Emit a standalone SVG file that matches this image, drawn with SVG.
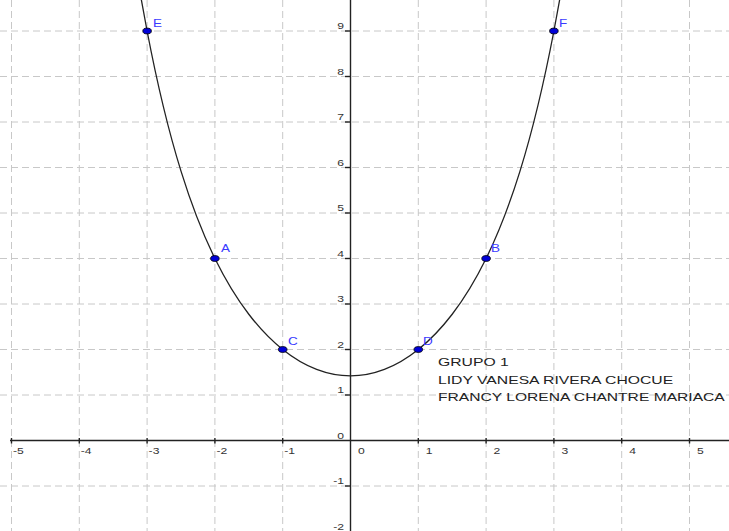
<svg xmlns="http://www.w3.org/2000/svg" width="729" height="531" viewBox="0 0 729 531">
<style>
.grid line{stroke:#c8c8c8;stroke-width:1;stroke-dasharray:7 4;}
.axis{stroke:#222;stroke-width:1.4;fill:none;}
.tick{stroke:#222;stroke-width:1.4;}
.tl{font-family:"Liberation Sans",Arial,sans-serif;font-size:9px;fill:#333;}
.yl{text-anchor:end;}
.pt{fill:#0000d8;stroke:#000;stroke-width:0.8;}
.pl{font-family:"Liberation Sans",Arial,sans-serif;font-size:10px;fill:#3a3aff;}
.info{font-family:"Liberation Sans",Arial,sans-serif;font-size:10.7px;fill:#222;}
.curve{fill:none;stroke:#222;stroke-width:1.3;}
</style>
<rect width="729" height="531" fill="#fff"/>
<g id="grid" class="grid">
<line x1="11.5" y1="0" x2="11.5" y2="531"/>
<line x1="79.3" y1="0" x2="79.3" y2="531"/>
<line x1="147.1" y1="0" x2="147.1" y2="531"/>
<line x1="214.9" y1="0" x2="214.9" y2="531"/>
<line x1="282.7" y1="0" x2="282.7" y2="531"/>
<line x1="418.3" y1="0" x2="418.3" y2="531"/>
<line x1="486.1" y1="0" x2="486.1" y2="531"/>
<line x1="553.9" y1="0" x2="553.9" y2="531"/>
<line x1="621.7" y1="0" x2="621.7" y2="531"/>
<line x1="689.5" y1="0" x2="689.5" y2="531"/>
<line x1="0" y1="31" x2="729" y2="31"/>
<line x1="0" y1="76.5" x2="729" y2="76.5"/>
<line x1="0" y1="122" x2="729" y2="122"/>
<line x1="0" y1="167.5" x2="729" y2="167.5"/>
<line x1="0" y1="213" x2="729" y2="213"/>
<line x1="0" y1="258.5" x2="729" y2="258.5"/>
<line x1="0" y1="304" x2="729" y2="304"/>
<line x1="0" y1="349.5" x2="729" y2="349.5"/>
<line x1="0" y1="395" x2="729" y2="395"/>
<line x1="0" y1="486" x2="729" y2="486"/>
</g>
<g id="axes">
<line class="axis" x1="10" y1="440.5" x2="729" y2="440.5"/>
<line class="axis" x1="350.5" y1="0" x2="350.5" y2="531"/>
<g class="tick">
<line x1="11.5" y1="438" x2="11.5" y2="443.5"/>
<line x1="79.3" y1="438" x2="79.3" y2="443.5"/>
<line x1="147.1" y1="438" x2="147.1" y2="443.5"/>
<line x1="214.9" y1="438" x2="214.9" y2="443.5"/>
<line x1="282.7" y1="438" x2="282.7" y2="443.5"/>
<line x1="418.3" y1="438" x2="418.3" y2="443.5"/>
<line x1="486.1" y1="438" x2="486.1" y2="443.5"/>
<line x1="553.9" y1="438" x2="553.9" y2="443.5"/>
<line x1="621.7" y1="438" x2="621.7" y2="443.5"/>
<line x1="689.5" y1="438" x2="689.5" y2="443.5"/>
<line x1="345" y1="31" x2="350.5" y2="31"/>
<line x1="345" y1="76.5" x2="350.5" y2="76.5"/>
<line x1="345" y1="122" x2="350.5" y2="122"/>
<line x1="345" y1="167.5" x2="350.5" y2="167.5"/>
<line x1="345" y1="213" x2="350.5" y2="213"/>
<line x1="345" y1="258.5" x2="350.5" y2="258.5"/>
<line x1="345" y1="304" x2="350.5" y2="304"/>
<line x1="345" y1="349.5" x2="350.5" y2="349.5"/>
<line x1="345" y1="395" x2="350.5" y2="395"/>
<line x1="345" y1="486" x2="350.5" y2="486"/>
</g>
<g class="tl">
<text transform="translate(13,454) scale(1.35,1)">-5</text>
<text transform="translate(80.8,454) scale(1.35,1)">-4</text>
<text transform="translate(148.6,454) scale(1.35,1)">-3</text>
<text transform="translate(216.4,454) scale(1.35,1)">-2</text>
<text transform="translate(284.2,454) scale(1.35,1)">-1</text>
<text transform="translate(358,454) scale(1.35,1)">0</text>
<text transform="translate(425.8,454) scale(1.35,1)">1</text>
<text transform="translate(493.6,454) scale(1.35,1)">2</text>
<text transform="translate(561.4,454) scale(1.35,1)">3</text>
<text transform="translate(629.2,454) scale(1.35,1)">4</text>
<text transform="translate(697,454) scale(1.35,1)">5</text>
<text class="yl" transform="translate(344,29) scale(1.35,1)">9</text>
<text class="yl" transform="translate(344,74.5) scale(1.35,1)">8</text>
<text class="yl" transform="translate(344,120) scale(1.35,1)">7</text>
<text class="yl" transform="translate(344,165.5) scale(1.35,1)">6</text>
<text class="yl" transform="translate(344,211) scale(1.35,1)">5</text>
<text class="yl" transform="translate(344,256.5) scale(1.35,1)">4</text>
<text class="yl" transform="translate(344,302) scale(1.35,1)">3</text>
<text class="yl" transform="translate(344,347.5) scale(1.35,1)">2</text>
<text class="yl" transform="translate(344,393) scale(1.35,1)">1</text>
<text class="yl" transform="translate(344,438.5) scale(1.35,1)">0</text>
<text class="yl" transform="translate(344,484) scale(1.35,1)">-1</text>
<text class="yl" transform="translate(344,529.5) scale(1.35,1)">-2</text>
</g>
</g>
<g id="connectors">
<path id="curve" class="curve" d="M141.33,-0.3 C143.25,10.59 145.18,20.97 147.1,31 C158.4,90.02 169.7,134.76 181.0,171.14 C192.3,207.52 203.6,235.5 214.9,258.5 C226.2,281.5 237.5,299.49 248.8,314.24 C260.1,328.99 271.4,340.48 282.7,349.5 C294.0,358.52 305.3,365.07 316.6,369.41 C327.9,373.75 339.2,375.9 350.5,375.9 C361.8,375.9 373.1,373.75 384.4,369.41 C395.7,365.07 407.0,358.52 418.3,349.5 C429.6,340.48 440.9,328.99 452.2,314.24 C463.5,299.49 474.8,281.5 486.1,258.5 C497.4,235.5 508.7,207.52 520.0,171.14 C531.3,134.76 542.6,90.02 553.9,31 C555.82,20.97 557.75,10.59 559.67,-0.3"/>
</g>
<g id="E"><ellipse class="pt" cx="147.1" cy="31" rx="4.3" ry="2.9"/><text class="pl" transform="translate(153,27) scale(1.35,1)">E</text></g>
<g id="F"><ellipse class="pt" cx="553.9" cy="31" rx="4.3" ry="2.9"/><text class="pl" transform="translate(559,26.5) scale(1.35,1)">F</text></g>
<g id="A"><ellipse class="pt" cx="214.9" cy="258.5" rx="4.3" ry="2.9"/><text class="pl" transform="translate(221,251.5) scale(1.35,1)">A</text></g>
<g id="B"><ellipse class="pt" cx="486.1" cy="258.5" rx="4.3" ry="2.9"/><text class="pl" transform="translate(491,251.5) scale(1.35,1)">B</text></g>
<g id="C"><ellipse class="pt" cx="282.7" cy="349.5" rx="4.3" ry="2.9"/><text class="pl" transform="translate(288,344.5) scale(1.35,1)">C</text></g>
<g id="D"><ellipse class="pt" cx="418.3" cy="349.5" rx="4.3" ry="2.9"/><text class="pl" transform="translate(423,344.5) scale(1.35,1)">D</text></g>
<g id="info" class="info">
<text transform="translate(438,366) scale(1.47,1)">GRUPO 1</text>
<text transform="translate(438,383.5) scale(1.47,1)">LIDY VANESA RIVERA CHOCUE</text>
<text transform="translate(438,401) scale(1.46,1)">FRANCY LORENA CHANTRE MARIACA</text>
</g>
</svg>
